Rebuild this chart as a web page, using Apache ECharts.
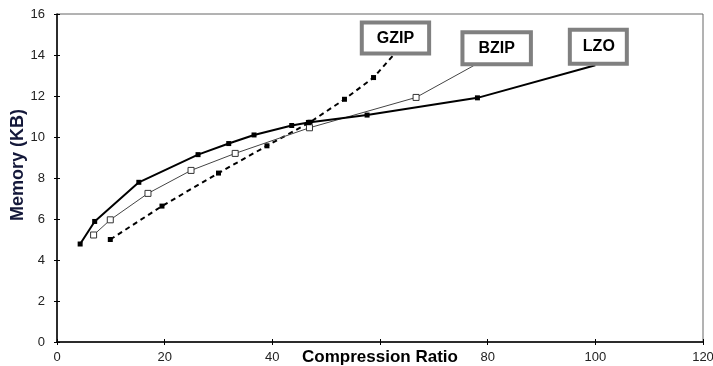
<!DOCTYPE html>
<html>
<head>
<meta charset="utf-8">
<script src="https://cdn.jsdelivr.net/npm/echarts@6/dist/echarts.min.js"></script>
<style>
  html, body { margin: 0; padding: 0; background: #fff; }
  #chart { width: 713px; height: 366px; }
</style>
</head>
<body>
<div id="chart"></div>
<script>
// values; the last point of each list is the end of the callout line
const lzoX = [4.3, 7.0, 15.2, 26.2, 31.9, 36.6, 43.6, 46.7, 57.6, 78.1, 100];
const lzoY = [4.78, 5.88, 7.79, 9.14, 9.68, 10.1, 10.56, 10.71, 11.07, 11.91, 13.5];
const bzipX = [6.8, 9.9, 16.9, 24.9, 33.1, 46.9, 66.7, 77.4];
const bzipY = [5.22, 5.96, 7.25, 8.37, 9.2, 10.45, 11.93, 13.48];
const gzipX = [9.9, 19.5, 30.0, 39.0, 47.0, 53.4, 58.8, 62.5];
const gzipY = [5.0, 6.63, 8.24, 9.57, 10.72, 11.84, 12.9, 14.0];
const xTicks = [0, 20, 40, 60, 80, 100, 120];
const yTicks = [0, 2, 4, 6, 8, 10, 12, 14, 16];

const font = "Arial, 'Liberation Sans', sans-serif";

function buildData(xs, ys, name, pad, dx) {
  let data = [];
  for (let i = 0; i < xs.length; i++) {
    let item = { value: [xs[i], ys[i]] };
    if (i === xs.length - 1) {
      // invisible symbol, it only carries the callout box
      item.symbolSize = 1;
      item.itemStyle = { color: "rgba(0,0,0,0)", borderWidth: 0 };
      item.label = {
        show: true,
        position: "top",
        distance: 3,
        offset: [dx, 0],
        formatter: name,
        color: "#000",
        fontFamily: font,
        fontSize: 16,
        fontWeight: "bold",
        lineHeight: 16,
        backgroundColor: "#fff",
        borderColor: "#808080",
        borderWidth: 4,
        padding: pad,
      };
    }
    data.push(item);
  }
  return data;
}

let chart = echarts.init(document.getElementById("chart"));

const option = {
  animation: false,
  grid: {
    left: 57,
    right: 10,
    top: 14,
    bottom: 24,
    outerBoundsMode: "none",
    show: true,
    borderColor: "#666",
    borderWidth: 1,
  },
  xAxis: [
    {
      type: "value",
      min: xTicks[0],
      max: xTicks[xTicks.length - 1],
      interval: 20,
      name: "Compression Ratio",
      nameLocation: "middle",
      nameGap: 7,
      nameMoveOverlap: false,
      nameTextStyle: {
        color: "#000",
        fontFamily: font,
        fontSize: 17,
        fontWeight: "bold",
      },
      splitLine: { show: false },
      axisLine: { onZero: false, lineStyle: { color: "#000", width: 1.5 } },
      axisTick: { length: 3, lineStyle: { color: "#000" } },
      axisLabel: {
        color: "#222",
        fontFamily: font,
        fontSize: 13,
        margin: 9,
        formatter: function (v) {
          return v === 60 ? "" : v;
        },
      },
    },
    {
      // inner half of the crossing ticks
      type: "value",
      position: "bottom",
      min: xTicks[0],
      max: xTicks[xTicks.length - 1],
      interval: 20,
      splitLine: { show: false },
      axisLine: { show: false },
      axisTick: { inside: true, length: 3, lineStyle: { color: "#000" } },
      axisLabel: { show: false },
    },
  ],
  yAxis: [
    {
      type: "value",
      min: yTicks[0],
      max: yTicks[yTicks.length - 1],
      interval: 2,
      name: "Memory (KB)",
      nameLocation: "middle",
      nameGap: 30,
      nameMoveOverlap: false,
      nameTextStyle: {
        color: "#14183a",
        fontFamily: font,
        fontSize: 18,
        fontWeight: "bold",
        padding: [0, 0, 0, 26],
      },
      splitLine: { show: false },
      axisLine: { onZero: false, lineStyle: { color: "#000", width: 1.5 } },
      axisTick: { length: 3, lineStyle: { color: "#000" } },
      axisLabel: {
        color: "#222",
        fontFamily: font,
        fontSize: 13,
        margin: 12,
      },
    },
    {
      type: "value",
      position: "left",
      min: yTicks[0],
      max: yTicks[yTicks.length - 1],
      interval: 2,
      splitLine: { show: false },
      axisLine: { show: false },
      axisTick: { inside: true, length: 3, lineStyle: { color: "#000" } },
      axisLabel: { show: false },
    },
  ],
  series: [
    {
      name: "LZO",
      type: "line",
      symbol: "rect",
      symbolSize: 5,
      itemStyle: { color: "#000" },
      lineStyle: { color: "#000", width: 2 },
      data: buildData(lzoX, lzoY, "LZO", [7, 10, 7, 11], 3),
      z: 4,
    },
    {
      name: "BZIP",
      type: "line",
      symbol: "rect",
      symbolSize: 6,
      itemStyle: { color: "#fff", borderColor: "#333", borderWidth: 1 },
      lineStyle: { color: "#444", width: 1 },
      data: buildData(bzipX, bzipY, "BZIP", [6, 14, 6, 14], 23),
      z: 3,
    },
    {
      name: "GZIP",
      type: "line",
      symbol: "rect",
      symbolSize: 5,
      itemStyle: { color: "#000" },
      lineStyle: { color: "#000", width: 2, type: [5, 4] },
      data: buildData(gzipX, gzipY, "GZIP", [6, 13, 5, 13], 2),
      z: 2,
    },
  ],
};

chart.setOption(option);
</script>
</body>
</html>
